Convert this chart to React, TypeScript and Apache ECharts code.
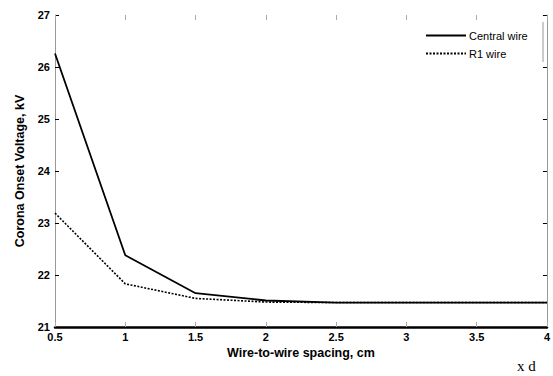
import React, { useEffect, useRef } from "react";
import * as echarts from "echarts";

const spacing = [0.5, 1, 1.5, 2, 2.5, 3, 3.5, 4];
const centralWire = [26.26, 22.38, 21.65, 21.51, 21.47, 21.47, 21.47, 21.47];
const r1Wire = [23.19, 21.83, 21.55, 21.48, 21.47, 21.47, 21.47, 21.47];
const seriesNames = ["Central wire", "R1 wire"];
const xTitle = "Wire-to-wire spacing, cm";
const yTitle = "Corona Onset Voltage, kV";
const cornerNote = "x d";

const FONT = "'Liberation Sans', Arial, sans-serif";

export default function App() {
  const ref = useRef<HTMLDivElement>(null);
  useEffect(() => {
    if (!ref.current) return;
    const chart = echarts.init(ref.current, null, { renderer: "svg" });
    const pair = (ys: number[]) => spacing.map((x, i) => [x, ys[i]]);
    chart.setOption({
      animation: false,
      backgroundColor: "#fff",
      grid: { left: 55, right: 3, top: 15, bottom: 49 },
      legend: {
        orient: "vertical",
        left: 420,
        top: 25,
        itemWidth: 40,
        itemHeight: 10,
        itemGap: 7,
        itemStyle: { opacity: 0 },
        textStyle: { fontFamily: FONT, fontSize: 11, color: "#000", padding: [0, 0, 0, -2] },
        data: seriesNames,
      },
      xAxis: [
        {
          type: "value",
          min: 0.5,
          max: 4,
          interval: 0.5,
          name: xTitle,
          nameLocation: "middle",
          nameGap: 19,
          nameTextStyle: { fontFamily: FONT, fontSize: 12.5, fontWeight: "bold", color: "#000", verticalAlign: "top" },
          axisLine: { show: true, onZero: false, lineStyle: { color: "#000", width: 2.5 } },
          axisTick: { show: true, inside: true, length: 5, lineStyle: { color: "#aaa" } },
          axisLabel: { fontFamily: FONT, fontSize: 11, fontWeight: "bold", color: "#000", margin: 4 },
          splitLine: { show: false },
        },
        {
          type: "value",
          position: "top",
          min: 0.5,
          max: 4,
          interval: 0.5,
          axisLine: { show: false },
          axisTick: { show: true, inside: true, length: 5, lineStyle: { color: "#aaa" } },
          axisLabel: { show: false },
          splitLine: { show: false },
        },
      ],
      yAxis: [
        {
          type: "value",
          min: 21,
          max: 27,
          interval: 1,
          name: yTitle,
          nameLocation: "middle",
          nameGap: 27,
          nameRotate: 90,
          nameTextStyle: { fontFamily: FONT, fontSize: 12.5, fontWeight: "bold", color: "#000" },
          axisLine: { show: true, onZero: false, lineStyle: { color: "#999", width: 1 } },
          axisTick: { show: true, inside: true, length: 4, lineStyle: { color: "#000" } },
          axisLabel: { fontFamily: FONT, fontSize: 11, fontWeight: "bold", color: "#000", margin: 5 },
          splitLine: { show: false },
        },
        {
          type: "value",
          position: "right",
          min: 21,
          max: 27,
          interval: 1,
          axisLine: { show: true, onZero: false, lineStyle: { color: "#999", width: 1 } },
          axisTick: { show: true, inside: true, length: 4, lineStyle: { color: "#000" } },
          axisLabel: { show: false },
          splitLine: { show: false },
        },
      ],
      graphic: [
        {
          type: "line",
          shape: { x1: 543, y1: 22, x2: 543, y2: 62 },
          style: { stroke: "#999", lineWidth: 1 },
        },
        {
          type: "text",
          left: 517,
          top: 358,
          style: { text: cornerNote, fontFamily: "'Liberation Serif', 'Times New Roman', serif", fontSize: 15, fill: "#000" },
        },
      ],
      series: [
        {
          name: seriesNames[0],
          type: "line",
          data: pair(centralWire),
          symbol: "none",
          lineStyle: { color: "#000", width: 1.8 },
          itemStyle: { color: "#000" },
          z: 3,
        },
        {
          name: seriesNames[1],
          type: "line",
          data: pair(r1Wire),
          symbol: "none",
          lineStyle: { color: "#000", width: 1.6, type: [2, 1.5] },
          itemStyle: { color: "#000" },
          z: 2,
        },
      ],
    });
    return () => chart.dispose();
  }, []);
  return <div ref={ref} style={{ width: 553, height: 376, position: "absolute", left: 0, top: 0 }} />;
}
